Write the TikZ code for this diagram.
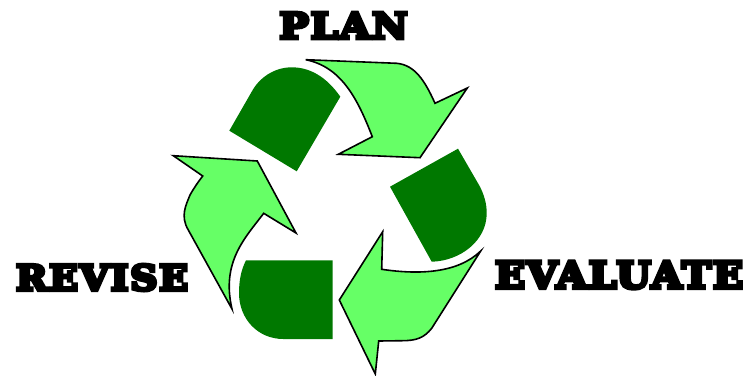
\documentclass[tikz,border=0pt]{standalone}
\usepackage{fontspec}
\usepackage{graphicx}
\newfontfamily\heavyfont[LetterSpace=5]{DejaVu Serif Bold}
\definecolor{lightgr}{RGB}{102,255,102}
\definecolor{darkgr}{RGB}{0,120,0}
\tikzset{
  lightarrow/.style={fill=lightgr,draw=black,line width=1.6pt,line join=miter,miter limit=10},
  darkblock/.style={fill=darkgr,draw=none},
  caption/.style={inner sep=0pt,outer sep=0pt,text=black}
}
\newcommand{\capt}[3]{\resizebox{#1pt}{#2pt}{\special{pdf:code 2 Tr 1.0 w}\heavyfont #3\special{pdf:code 0 Tr 1 w}}}
\begin{document}
\begin{tikzpicture}[x=1pt,y=-1pt]
\useasboundingbox (0,0) rectangle (754,375);
% dark blocks
\path[darkblock] (229.3,130.7) -- (296.7,171.3) -- (340.3,96.7)
  .. controls (326,76) and (309,67.3) .. (291.7,67.3)
  .. controls (274,67.3) and (259,78) .. (251.7,91.7) -- cycle;
\path[darkblock] (458,148.7) -- (390,186.7) -- (431.7,261.7)
  .. controls (460,261) and (486.7,241) .. (486.7,213.3)
  .. controls (486.7,203) and (484,195) .. (480,186.7) -- cycle;
\path[darkblock] (246,260.3) -- (332.7,260.3) -- (332.7,339) -- (283.3,339)
  .. controls (258,339) and (239,319) .. (239,293)
  .. controls (239,281) and (241,270) .. (246,260.3) -- cycle;
% light arrows
\path[lightarrow] (305.7,59.7) -- (396.7,63.3)
  .. controls (415,65) and (425,81) .. (435,103.3)
  -- (467.3,88) -- (420,157.7) -- (338.3,154.3) -- (372.3,136.7)
  .. controls (358,100) and (342,67) .. (305.7,59.7) -- cycle;
\path[lightarrow] (480.7,251) -- (431.7,328.3)
  .. controls (424,338) and (416,340.7) .. (402,340.7)
  -- (378.7,341) -- (375.3,374) -- (339.3,300) -- (382.7,231.7) -- (381.7,269.3)
  .. controls (420,275) and (458,273) .. (480.7,251) -- cycle;
\path[lightarrow] (296,233) -- (263.7,213.3)
  .. controls (245,238) and (221,262) .. (232,309)
  -- (188.3,230)
  .. controls (180,216) and (186,205) .. (190,195)
  .. controls (194,188) and (198,182) .. (202.7,176)
  -- (173.3,155.7) -- (257.3,161) -- cycle;
% captions
\node[caption] (plan) at (343.5,25.5) {\capt{128}{26}{PLAN}};
\node[caption] (revise) at (102,277.5) {\capt{172}{26}{REVISE}};
\node[caption] (evaluate) at (619,275) {\capt{248}{27}{EVALUATE}};
\end{tikzpicture}
\end{document}
